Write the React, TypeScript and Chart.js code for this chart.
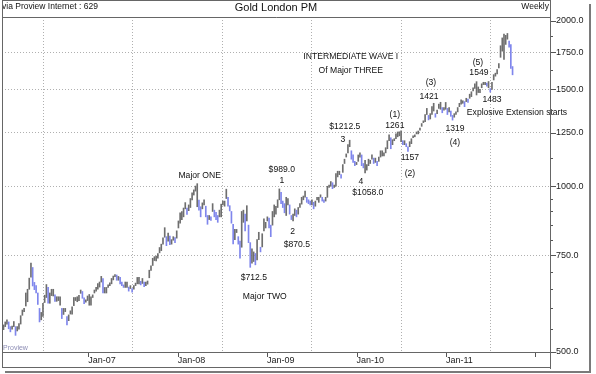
import { useEffect, useRef } from "react";
import { Chart, registerables } from "chart.js";

Chart.register(...registerables);

// Weekly London PM gold fix, week ending Fridays, first week ending 2006-01-20
const firstWeekEnding = "2006-01-20";

const low2006 = [549, 556, 562, 551, 544, 550, 556, 536, 546, 550, 562, 583, 592, 606, 617, 650, 684, 659, 649, 640, 610, 567, 572, 580, 615, 628, 613, 613, 633, 632, 618, 618, 620, 608, 575, 585, 592, 560, 570, 586, 586, 607, 620, 617, 620, 639, 626, 612, 616, 620];
const high2006 = [560, 567, 572, 567, 556, 557, 568, 556, 556, 563, 582, 596, 600, 640, 650, 681, 725, 712, 669, 660, 640, 600, 590, 613, 634, 663, 655, 640, 650, 650, 635, 630, 630, 630, 600, 600, 600, 580, 584, 594, 604, 628, 628, 630, 634, 648, 644, 627, 622, 632];

const low2007 = [608, 608, 628, 640, 645, 650, 656, 670, 640, 640, 640, 655, 660, 665, 676, 685, 675, 675, 665, 660, 655, 655, 655, 645, 652, 642, 650, 660, 665, 665, 662, 666, 657, 660, 664, 682, 703, 718, 733, 732, 740, 757, 764, 785, 808, 780, 795, 783, 785, 798, 790, 805];
const high2007 = [636, 630, 635, 648, 655, 666, 670, 686, 680, 655, 655, 662, 668, 680, 687, 691, 690, 686, 683, 670, 662, 670, 670, 656, 660, 652, 660, 667, 683, 683, 672, 680, 670, 670, 673, 704, 717, 740, 745, 747, 755, 774, 785, 806, 841, 810, 822, 812, 800, 810, 807, 830];

const low2008 = [840, 857, 870, 880, 910, 889, 903, 915, 945, 964, 980, 918, 905, 880, 910, 925, 880, 853, 870, 867, 900, 880, 870, 860, 880, 880, 925, 920, 950, 920, 902, 857, 786, 800, 824, 785, 740, 775, 860, 830, 865, 790, 712.5, 725, 730, 720, 735, 800, 760, 776, 830, 840];
const high2008 = [865, 895, 900, 913, 934, 913, 925, 950, 973, 985, 1001, 1011, 944, 918, 933, 945, 920, 885, 885, 880, 930, 905, 897, 885, 905, 928, 940, 940, 988, 955, 922, 900, 853, 835, 835, 810, 795, 900, 905, 890, 922, 850, 790, 770, 760, 755, 800, 825, 775, 820, 873, 860];

const low2009 = [865, 840, 810, 850, 880, 890, 915, 945, 930, 915, 895, 885, 925, 890, 870, 865, 885, 880, 890, 915, 928, 945, 955, 935, 930, 925, 925, 910, 920, 945, 935, 955, 940, 935, 940, 955, 995, 1000, 990, 995, 1000, 1040, 1050, 1035, 1060, 1100, 1130, 1150, 1180, 1120, 1105, 1090];
const high2009 = [880, 875, 850, 900, 925, 920, 945, 989, 975, 940, 930, 955, 950, 925, 885, 890, 910, 905, 915, 930, 955, 960, 980, 955, 945, 940, 945, 935, 940, 955, 955, 965, 955, 945, 955, 1000, 1005, 1020, 1015, 1005, 1055, 1065, 1065, 1050, 1095, 1120, 1145, 1190, 1212.5, 1160, 1140, 1110];

const low2010 = [1095, 1110, 1130, 1090, 1080, 1058, 1070, 1090, 1100, 1120, 1100, 1105, 1090, 1110, 1130, 1135, 1135, 1150, 1170, 1210, 1170, 1190, 1210, 1220, 1230, 1235, 1205, 1190, 1190, 1180, 1157, 1180, 1195, 1225, 1230, 1245, 1245, 1265, 1285, 1305, 1310, 1350, 1320, 1325, 1350, 1370, 1335, 1355, 1385, 1380, 1360, 1375, 1380];
const high2010 = [1105, 1140, 1150, 1140, 1100, 1115, 1095, 1120, 1115, 1140, 1125, 1125, 1110, 1130, 1160, 1160, 1150, 1175, 1210, 1240, 1225, 1215, 1220, 1245, 1255, 1256, 1261, 1210, 1210, 1195, 1180, 1205, 1220, 1235, 1240, 1255, 1260, 1275, 1300, 1315, 1350, 1385, 1345, 1355, 1395, 1415, 1355, 1375, 1410, 1421, 1390, 1390, 1420];

const low2011 = [1350, 1365, 1340, 1319, 1335, 1350, 1365, 1395, 1410, 1415, 1395, 1425, 1420, 1445, 1455, 1490, 1505, 1465, 1480, 1480, 1510, 1530, 1530, 1520, 1510, 1483, 1500, 1560, 1585, 1600, 1640, 1715, 1760, 1700, 1810, 1850, 1790, 1637, 1594];
const high2011 = [1385, 1390, 1370, 1345, 1355, 1365, 1390, 1415, 1435, 1430, 1425, 1445, 1440, 1470, 1485, 1510, 1535, 1549, 1515, 1500, 1535, 1545, 1545, 1540, 1550, 1505, 1545, 1595, 1605, 1630, 1670, 1800, 1860, 1890, 1880, 1895, 1835, 1808, 1650];

const yMajorTicks = [500, 750, 1000, 1250, 1500, 1750, 2000];
const yGridValues = [750, 1000, 1250, 1500, 1750];
const yMinorTicks = [550, 600, 650, 700, 800, 850, 900, 950, 1125, 1375, 1625, 1875];
const xTickYears = [2007, 2008, 2009, 2010, 2011, 2012];
const xTickLabels = ["Jan-07", "Jan-08", "Jan-09", "Jan-10", "Jan-11", ""];

const annotations = [
  { text: "Major ONE", t: 2008.246, p: 1045 },
  { text: "$989.0", t: 2009.164, p: 1072 },
  { text: "1", t: 2009.164, p: 1024 },
  { text: "2", t: 2009.287, p: 827 },
  { text: "$870.5", t: 2009.332, p: 783 },
  { text: "$712.5", t: 2008.851, p: 682 },
  { text: "Major TWO", t: 2008.974, p: 630 },
  { text: "3", t: 2009.847, p: 1215 },
  { text: "$1212.5", t: 2009.869, p: 1283 },
  { text: "4", t: 2010.048, p: 1019 },
  { text: "$1058.0", t: 2010.127, p: 973 },
  { text: "(1)", t: 2010.429, p: 1349 },
  { text: "1261", t: 2010.429, p: 1289 },
  { text: "1157", t: 2010.597, p: 1127 },
  { text: "(2)", t: 2010.597, p: 1054 },
  { text: "(3)", t: 2010.832, p: 1543 },
  { text: "1421", t: 2010.81, p: 1455 },
  { text: "1319", t: 2011.101, p: 1273 },
  { text: "(4)", t: 2011.101, p: 1200 },
  { text: "(5)", t: 2011.358, p: 1678 },
  { text: "1549", t: 2011.369, p: 1609 },
  { text: "1483", t: 2011.515, p: 1437 },
  { text: "Explosive Extension starts", t: 2011.795, p: 1360 },
  { text: "INTERMEDIATE WAVE I", t: 2009.936, p: 1721 },
  { text: "Of Major THREE", t: 2009.936, p: 1622 },
];

const FONT = "'Liberation Sans', Arial, Helvetica, sans-serif";
const GRAY = "#6e6e6e";
const BLUE = "#7f86ec";

const allLow = [...low2006, ...low2007, ...low2008, ...low2009, ...low2010, ...low2011];
const allHigh = [...high2006, ...high2007, ...high2008, ...high2009, ...high2010, ...high2011];

function decYear(ms: number): number {
  const d = new Date(ms);
  const y = d.getUTCFullYear();
  const s = Date.UTC(y, 0, 1);
  const e = Date.UTC(y + 1, 0, 1);
  return y + (ms - s) / (e - s);
}

const decorPlugin = {
  id: "decor",
  afterDraw(chart: any) {
    const { ctx, chartArea } = chart;
    const x = chart.scales.x;
    const y = chart.scales.y;
    const L = chartArea.left;
    const R = chartArea.right;
    const T = chartArea.top;
    const B = chartArea.bottom;
    ctx.save();

    // watermark
    ctx.fillStyle = "#8c8cb4";
    ctx.font = `7px ${FONT}`;
    ctx.textAlign = "left";
    ctx.textBaseline = "middle";
    ctx.fillText("Proview", L + 1, B - 4);

    // annotations
    ctx.fillStyle = "#111";
    ctx.font = `8.6px ${FONT}`;
    ctx.textAlign = "center";
    ctx.textBaseline = "middle";
    for (const a of annotations) {
      ctx.fillText(a.text, x.getPixelForValue(a.t), y.getPixelForValue(a.p));
    }

    // header
    ctx.font = `8.5px ${FONT}`;
    ctx.textAlign = "left";
    ctx.fillText("via Proview Internet : 629", L, 7);
    ctx.textAlign = "right";
    ctx.fillText("Weekly", R - 1, 7);
    ctx.font = `11px ${FONT}`;
    ctx.textAlign = "center";
    ctx.fillText("Gold London PM", 276, 8);

    // tick marks
    ctx.strokeStyle = "#555";
    ctx.lineWidth = 1;
    ctx.beginPath();
    for (const v of yMajorTicks) {
      const py = Math.round(y.getPixelForValue(v)) + 0.5;
      ctx.moveTo(R, py);
      ctx.lineTo(R + 6, py);
    }
    for (const v of yMinorTicks) {
      const py = Math.round(y.getPixelForValue(v)) + 0.5;
      ctx.moveTo(R, py);
      ctx.lineTo(R + 3, py);
    }
    for (const v of xTickYears) {
      const px = Math.round(x.getPixelForValue(v)) + 0.5;
      ctx.moveTo(px, B);
      ctx.lineTo(px, B + 5);
    }
    ctx.stroke();

    // frame
    ctx.strokeStyle = "#666";
    ctx.beginPath();
    ctx.moveTo(L + 0.5, 0.5);
    ctx.lineTo(R + 0.5, 0.5);
    ctx.moveTo(L + 0.5, 0);
    ctx.lineTo(L + 0.5, 368);
    ctx.moveTo(L, T + 0.5);
    ctx.lineTo(R + 0.5, T + 0.5);
    ctx.moveTo(L, B + 0.5);
    ctx.lineTo(R + 0.5, B + 0.5);
    ctx.moveTo(R + 0.5, 0);
    ctx.lineTo(R + 0.5, 369);
    ctx.moveTo(L, 367.5);
    ctx.lineTo(R + 0.5, 367.5);
    ctx.stroke();

    // outer shadow frame
    ctx.fillStyle = "#7a7a7a";
    ctx.fillRect(589, 4, 2, 369);
    ctx.fillRect(5, 371, 586, 2);
    ctx.restore();
  },
};

export default function App() {
  const ref = useRef<HTMLCanvasElement | null>(null);

  useEffect(() => {
    document.body.style.margin = "0";
    const start = Date.parse(firstWeekEnding + "T00:00:00Z");
    const points = allLow.map((lo, i) => ({
      x: decYear(start + i * 7 * 86400000),
      y: [lo, allHigh[i]],
    }));
    const colors = allLow.map((lo, i) =>
      i > 0 && allHigh[i] < allHigh[i - 1] && lo < allLow[i - 1] ? BLUE : GRAY
    );

    const chart = new Chart(ref.current as HTMLCanvasElement, {
      type: "bar",
      data: {
        datasets: [
          {
            data: points as any,
            backgroundColor: colors,
            borderWidth: 0,
            barThickness: 1,
          } as any,
        ],
      },
      options: {
        animation: false,
        responsive: false,
        events: [],
        layout: { padding: { left: 2, top: 17, right: 0, bottom: 0 } },
        plugins: { legend: { display: false }, tooltip: { enabled: false } },
        scales: {
          x: {
            type: "linear",
            min: 2006.035,
            max: 2012.164,
            offset: false,
            afterBuildTicks: (axis: any) => {
              axis.ticks = xTickYears.map((v) => ({ value: v }));
            },
            afterFit: (s: any) => {
              s.height = 22;
            },
            grid: { color: "#b0b0b0", drawTicks: false, lineWidth: 1 },
            border: { display: false, dash: [1, 2] },
            ticks: {
              autoSkip: false,
              maxRotation: 0,
              align: "start",
              padding: 3,
              color: "#222",
              font: { family: FONT, size: 9 },
              callback: (v: any) => {
                const i = xTickYears.indexOf(Number(v));
                return i >= 0 ? xTickLabels[i] : "";
              },
            },
          },
          y: {
            type: "logarithmic",
            position: "right",
            min: 500,
            max: 2030,
            afterBuildTicks: (axis: any) => {
              axis.ticks = yMajorTicks.map((v) => ({ value: v }));
            },
            afterFit: (s: any) => {
              s.width = 46;
            },
            grid: {
              color: (c: any) =>
                c.tick && yGridValues.includes(c.tick.value) ? "#b0b0b0" : "rgba(0,0,0,0)",
              drawTicks: false,
              lineWidth: 1,
            },
            border: { display: false, dash: [1, 2] },
            ticks: {
              autoSkip: false,
              padding: 6,
              color: "#222",
              font: { family: FONT, size: 9 },
              callback: (v: any) => Number(v).toFixed(1),
            },
          },
        },
      } as any,
      plugins: [decorPlugin],
    });
    return () => chart.destroy();
  }, []);

  return (
    <div style={{ position: "fixed", left: 0, top: 0, width: 596, height: 374, background: "#fff" }}>
      <canvas ref={ref} width={596} height={374} />
    </div>
  );
}
